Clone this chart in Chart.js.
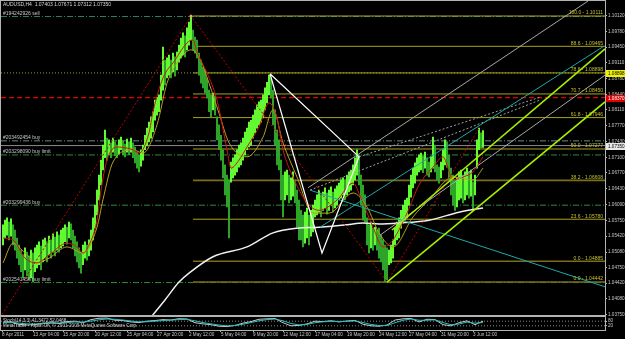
<!DOCTYPE html>
<html>
<head>
<meta charset="utf-8">
<script src="https://cdn.jsdelivr.net/npm/chart.js@4.4.1/dist/chart.umd.min.js"></script>
<style>
  body { margin: 0; background: #000; }
  #wrap { position: relative; width: 625px; height: 339px; background: #000; overflow: hidden; }
  #main { position: absolute; left: 0; top: 0; }
  #sub { position: absolute; left: 0; top: 316px; }
</style>
</head>
<body>
<div id="wrap">
  <canvas id="main" width="625" height="316"></canvas>
  <canvas id="sub" width="625" height="23"></canvas>
</div>
<script>
// AUDUSD H4 bars, one per 4 hours (bar 0 = 8 Apr 2011)
const highs = [
  1.0566,1.0576,1.0581,1.0572,1.0579,1.0566,1.0555,1.0538,1.0523,1.0512,
  1.0502,1.0517,1.0508,1.0500,1.0512,1.0506,1.0517,1.0523,1.0530,1.0521,
  1.0534,1.0538,1.0530,1.0542,1.0534,1.0547,1.0540,1.0551,1.0544,1.0555,
  1.0559,1.0566,1.0561,1.0572,1.0568,1.0555,1.0542,1.0530,1.0517,1.0508,
  1.0523,1.0530,1.0523,1.0534,1.0555,1.0581,1.0608,1.0640,1.0672,1.0704,
  1.0736,1.0768,1.0751,1.0747,1.0741,1.0751,1.0743,1.0736,1.0747,1.0753,
  1.0745,1.0738,1.0749,1.0743,1.0751,1.0741,1.0732,1.0721,1.0715,1.0726,
  1.0736,1.0757,1.0772,1.0785,1.0796,1.0807,1.0832,1.0838,1.0843,1.0885,
  1.0945,1.0917,1.0922,1.0928,1.0917,1.0932,1.0924,1.0934,1.0949,1.0964,
  1.0975,1.0969,1.0986,1.0998,1.1011,1.0981,1.0966,1.0960,1.0932,1.0917,
  1.0902,1.0896,1.0879,1.0853,1.0843,1.0847,1.0841,1.0796,1.0779,1.0757,
  1.0726,1.0694,1.0672,1.0662,1.0700,1.0709,1.0715,1.0726,1.0736,1.0741,
  1.0751,1.0764,1.0772,1.0785,1.0789,1.0800,1.0811,1.0822,1.0828,1.0832,
  1.0843,1.0858,1.0870,1.0885,1.0879,1.0853,1.0811,1.0768,1.0747,1.0704,
  1.0672,1.0679,1.0683,1.0672,1.0666,1.0679,1.0662,1.0640,1.0619,1.0597,
  1.0587,1.0593,1.0602,1.0587,1.0597,1.0608,1.0619,1.0630,1.0640,1.0630,
  1.0636,1.0645,1.0634,1.0640,1.0647,1.0636,1.0643,1.0649,1.0655,1.0662,
  1.0666,1.0662,1.0672,1.0679,1.0683,1.0694,1.0709,1.0726,1.0715,1.0672,
  1.0651,1.0630,1.0581,1.0566,1.0572,1.0559,1.0561,1.0555,1.0559,1.0544,
  1.0534,1.0523,1.0517,1.0512,1.0523,1.0534,1.0559,1.0572,1.0581,1.0597,
  1.0608,1.0619,1.0623,1.0651,1.0672,1.0687,1.0698,1.0709,1.0715,1.0719,
  1.0713,1.0721,1.0709,1.0700,1.0711,1.0753,1.0736,1.0694,1.0689,1.0700,
  1.0726,1.0747,1.0743,1.0715,1.0687,1.0672,1.0662,1.0666,1.0679,1.0683,
  1.0672,1.0679,1.0687,1.0679,1.0683,1.0657,1.0672,1.0747,1.0772,1.0762,1.0767
];
const lows = [
  1.0523,1.0538,1.0544,1.0534,1.0542,1.0523,1.0512,1.0495,1.0481,1.0466,
  1.0453,1.0470,1.0457,1.0449,1.0453,1.0444,1.0466,1.0474,1.0481,1.0470,
  1.0487,1.0495,1.0487,1.0502,1.0495,1.0508,1.0500,1.0512,1.0508,1.0517,
  1.0521,1.0530,1.0525,1.0538,1.0534,1.0517,1.0500,1.0487,1.0474,1.0463,
  1.0481,1.0495,1.0491,1.0500,1.0512,1.0534,1.0559,1.0587,1.0619,1.0651,
  1.0683,1.0709,1.0704,1.0715,1.0709,1.0721,1.0713,1.0709,1.0717,1.0726,
  1.0715,1.0711,1.0721,1.0715,1.0721,1.0709,1.0698,1.0687,1.0679,1.0691,
  1.0704,1.0726,1.0734,1.0743,1.0751,1.0764,1.0789,1.0800,1.0807,1.0832,
  1.0853,1.0864,1.0879,1.0885,1.0879,1.0892,1.0883,1.0896,1.0913,1.0922,
  1.0928,1.0924,1.0939,1.0949,1.0960,1.0939,1.0932,1.0922,1.0885,1.0868,
  1.0858,1.0847,1.0836,1.0807,1.0796,1.0811,1.0800,1.0747,1.0726,1.0704,
  1.0666,1.0630,1.0604,1.0538,1.0657,1.0666,1.0672,1.0679,1.0689,1.0694,
  1.0704,1.0715,1.0726,1.0732,1.0736,1.0751,1.0762,1.0772,1.0779,1.0785,
  1.0794,1.0811,1.0826,1.0843,1.0836,1.0779,1.0736,1.0694,1.0683,1.0619,
  1.0583,1.0619,1.0630,1.0613,1.0619,1.0627,1.0613,1.0561,1.0534,1.0534,
  1.0519,1.0527,1.0538,1.0523,1.0542,1.0551,1.0583,1.0587,1.0593,1.0583,
  1.0597,1.0602,1.0589,1.0597,1.0608,1.0593,1.0602,1.0608,1.0619,1.0623,
  1.0630,1.0619,1.0630,1.0636,1.0640,1.0651,1.0662,1.0672,1.0651,1.0608,
  1.0576,1.0572,1.0523,1.0506,1.0517,1.0512,1.0523,1.0512,1.0495,1.0487,
  1.0470,1.0444,1.0449,1.0481,1.0485,1.0495,1.0523,1.0534,1.0538,1.0559,
  1.0570,1.0576,1.0581,1.0608,1.0625,1.0645,1.0655,1.0672,1.0679,1.0683,
  1.0677,1.0687,1.0672,1.0668,1.0679,1.0687,1.0679,1.0662,1.0655,1.0666,
  1.0683,1.0694,1.0689,1.0662,1.0630,1.0608,1.0597,1.0604,1.0619,1.0623,
  1.0613,1.0619,1.0630,1.0623,1.0627,1.0597,1.0630,1.0687,1.0726,1.0730,1.0731
];

// moving averages as [bar, price]
const maFast = [[0,1.0538],[5,1.0534],[11,1.0495],[17,1.0485],[23,1.0502],[32,1.0527],[37,1.0519],[40,1.0506],[43,1.0523],[47,1.0576],[49,1.0640],[52,1.0704],[57,1.0732],[65,1.0726],[68,1.0719],[73,1.0762],[75,1.0807],[80,1.0879],[86,1.0917],[92,1.0954],[95,1.0960],[97,1.0934],[102,1.0890],[107,1.0832],[112,1.0726],[114,1.0687],[118,1.0704],[122,1.0732],[128,1.0775],[133,1.0826],[137,1.0794],[140,1.0726],[145,1.0668],[152,1.0613],[158,1.0597],[167,1.0619],[175,1.0655],[179,1.0623],[185,1.0561],[190,1.0519],[195,1.0534],[202,1.0591],[208,1.0651],[215,1.0689],[220,1.0711],[225,1.0662],[230,1.0668],[235,1.0679],[240,1.0711]];
const maSlow = [[0,1.0485],[5,1.0527],[11,1.0506],[17,1.0485],[23,1.0495],[32,1.0519],[40,1.0506],[47,1.0561],[50,1.0620],[55,1.0700],[65,1.0726],[70,1.0719],[77,1.0779],[82,1.0868],[88,1.0917],[94,1.0939],[98,1.0924],[103,1.0868],[108,1.0804],[113,1.0741],[122,1.0711],[130,1.0753],[135,1.0811],[140,1.0741],[147,1.0668],[155,1.0591],[163,1.0591],[175,1.0634],[182,1.0604],[188,1.0549],[195,1.0519],[205,1.0583],[213,1.0619],[225,1.0668],[235,1.0662],[240,1.0687]];
const maLong = [[72,1.0359],[81,1.0406],[88,1.0444],[93,1.0463],[105,1.0498],[122,1.0519],[135,1.0549],[147,1.0559],[158,1.0561],[172,1.0566],[180,1.0570],[188,1.0568],[198,1.0570],[213,1.0576],[228,1.0593],[240,1.0602]];

// drawn objects as [bar, price]
const zigzag = [[-1.5,1.0368],[94,1.1011],[192,1.0444],[238,1.0772]];
const pattern = [[133.5,1.0888],[159.5,1.0506],[178,1.0711],[133.5,1.0888]];
const limeLow = [[192,1.0444],[301,1.0828]];
const limeHigh = [[194.5,1.0555],[301,1.0941]];
const grayUp = [[152.5,1.0645],[292.5,1.1043]];
const grayLow = [[188.5,1.0544],[301,1.0885]];
const grayDot1 = [[153.5,1.0640],[268.5,1.0832]];
const grayDot2 = [[178,1.0711],[268.5,1.0838]];
const cyanDown = [[153.5,1.0640],[301,1.0434]];
const cyanUp = [[158.5,1.0561],[300.5,1.0947]];

// fibonacci levels (start at the top bar)
const fibStart = 95;
const fibNames = ['100.0','88.6','78.6','70.7','61.8','50.0','38.2','23.6','0.0','0.0'];
const fibPrices = [1.10111,1.09465,1.08898,1.08450,1.07946,1.07277,1.06608,1.05780,1.04885,1.04442];

// orders
const orderNames = ['#194242926 sell','#203492454 buy','#203298090 buy limit','#203299436 buy','#202541456 buy limit'];
const orderPrices = [1.1010,1.0745,1.0715,1.0608,1.0443];
const bidPrice = 1.07350;
const alertPrice = 1.08898;
const stopPrice = 1.08370;

// axis labels
const priceTicks = [1.1012,1.0978,1.0945,1.0911,1.0878,1.0844,1.0811,1.0777,1.0743,1.0710,1.0677,1.0643,1.0609,1.0575,1.0542,1.0508,1.0475,1.0442,1.0408,1.0375];
const timeBars = [-0.5,15,30,46,62,77,93,109,125,140,156,172,188,203,219,235];
const timeLabels = ['8 Apr 2011','13 Apr 04:00','15 Apr 20:00','20 Apr 12:00','25 Apr 04:00','27 Apr 20:00','2 May 12:00','5 May 04:00','9 May 20:00','12 May 12:00','17 May 04:00','19 May 20:00','24 May 12:00','27 May 04:00','31 May 20:00','3 Jun 12:00'];

// oscillator, one value every 4 bars
const oscStep = 4;
const oscMain = [65,70,40,30,38,55,60,50,75,80,60,100,118,120,92,88,70,62,80,88,100,95,112,108,60,45,35,15,10,25,55,75,105,110,115,60,20,25,45,80,75,85,70,82,90,40,20,15,30,95,110,115,70,105,100,35,20,60,85,35,80];
const oscSignal = [60,62,55,45,42,48,55,56,62,70,68,80,98,108,104,95,82,72,72,80,88,94,100,104,84,62,45,30,20,24,40,62,85,100,108,85,50,32,38,60,72,78,76,78,84,62,38,24,24,60,92,108,92,92,98,62,35,42,68,55,62];
const oscLevels = [80, 20];

const FONT = '"Liberation Sans", Arial, sans-serif';
const FRAME = '#b4b4b4';
const X_MIN = -1, X_MAX = 301;

const pts = arr => arr.map(p => ({ x: p[0], y: p[1] }));
const hline = (price, from) => [{ x: from, y: price }, { x: X_MAX, y: price }];

function lineSet(data, color, extra) {
    return Object.assign({
        type: 'line',
        data: data,
        borderColor: color,
        borderWidth: 1,
        pointRadius: 0,
        fill: false,
        tension: 0
    }, extra || {});
}

// candle colours: rising bars lime, falling bars darker green
const candleColors = highs.map((h, i) => {
    if (i === 0) return '#66ff33';
    return (h + lows[i]) >= (highs[i - 1] + lows[i - 1]) ? '#66ff33' : '#2fa82a';
});

const mainSets = [];

// horizontal order lines and fib levels, behind everything
const orderColors = ['#2f8060', '#5f8f8f', '#2f8a3a', '#2f8a3a', '#2f8a3a'];
orderPrices.forEach((p, k) => {
    mainSets.push(lineSet(hline(p, X_MIN), orderColors[k], { borderDash: [6, 2, 1, 2], order: 20 }));
});
mainSets.push(lineSet(hline(bidPrice, X_MIN), '#8a8a8a', { order: 20 }));
mainSets.push(lineSet(hline(alertPrice, X_MIN), '#9a9a20', { borderDash: [1, 2], order: 20 }));
mainSets.push(lineSet(hline(stopPrice, X_MIN), '#e00000', { borderDash: [5, 3], borderWidth: 1.2, order: 20 }));
fibPrices.forEach((p, k) => {
    const dark = fibNames[k] === '38.2' || fibNames[k] === '0.0';
    mainSets.push(lineSet(hline(p, fibStart), dark ? '#7a6e1c' : '#a8a418', { borderWidth: dark ? 1.6 : 1, order: 19 }));
});

// candles
mainSets.push({
    type: 'bar',
    data: highs.map((h, i) => ({ x: i, y: [lows[i], h] })),
    backgroundColor: candleColors,
    borderWidth: 0,
    barThickness: 1.3,
    grouped: false,
    order: 10
});

// moving averages
mainSets.push(lineSet(pts(maLong), '#f0f0f0', { borderWidth: 1.5, cubicInterpolationMode: 'monotone', order: 6 }));
mainSets.push(lineSet(pts(maSlow), '#b8a020', { cubicInterpolationMode: 'monotone', order: 5 }));
mainSets.push(lineSet(pts(maFast), '#d01414', { cubicInterpolationMode: 'monotone', order: 4 }));

// trend lines and the pattern
mainSets.push(lineSet(pts(zigzag), '#c00000', {
    borderDash: [2, 2],
    order: 3,
    pointRadius: zigzag.map((p, k) => (k === 1 ? 1.8 : 0)),
    pointStyle: 'rect',
    pointBackgroundColor: '#ffa070',
    pointBorderWidth: 0
}));
mainSets.push(lineSet(pts(cyanDown), '#1fa8a8', { order: 2 }));
mainSets.push(lineSet(pts(cyanUp), '#1fa8a8', { order: 2 }));
mainSets.push(lineSet(pts(grayUp), '#a8a8a8', { order: 2 }));
mainSets.push(lineSet(pts(grayLow), '#a8a8a8', { order: 2 }));
mainSets.push(lineSet(pts(grayDot1), '#a0a0a0', { borderDash: [2, 2], order: 2 }));
mainSets.push(lineSet(pts(grayDot2), '#a0a0a0', { borderDash: [2, 2], order: 2 }));
mainSets.push(lineSet(pts(limeLow), '#a8f000', { borderWidth: 1.5, order: 1 }));
mainSets.push(lineSet(pts(limeHigh), '#a8f000', { borderWidth: 1.5, order: 1 }));
mainSets.push(lineSet(pts(pattern), '#ffffff', { borderWidth: 1.2, order: 1 }));

function priceBox(ctx, area, y, text, bg, fg) {
    const py = Math.round(y);
    ctx.fillStyle = bg;
    ctx.fillRect(area.right + 1, py - 3, 625 - area.right - 1, 7);
    ctx.fillStyle = fg;
    ctx.textAlign = 'left';
    ctx.textBaseline = 'middle';
    ctx.fillText(text, area.right + 3, py + 0.5);
}

const mainOverlay = {
    id: 'mainOverlay',
    afterDraw(chart) {
        const { ctx, chartArea: a, scales: { y } } = chart;
        ctx.save();
        ctx.strokeStyle = FRAME;
        ctx.lineWidth = 1;
        ctx.strokeRect(a.left - 0.5, a.top - 0.5, a.width + 1, a.height + 1);

        ctx.font = '5px ' + FONT;
        ctx.textBaseline = 'middle';
        ctx.textAlign = 'left';
        ctx.fillStyle = '#d8d8d8';
        ctx.fillText('AUDUSD,H4  1.07403 1.07671 1.07312 1.07350', a.left + 2, a.top + 4);

        ctx.fillStyle = '#c8c8c8';
        orderPrices.forEach((p, k) => {
            ctx.fillText(orderNames[k], a.left + 2, y.getPixelForValue(p) - 3);
        });

        ctx.textAlign = 'right';
        ctx.fillStyle = '#c4c030';
        fibPrices.forEach((p, k) => {
            ctx.fillText(fibNames[k] + ' - ' + p.toFixed(5), a.right - 2, y.getPixelForValue(p) - 3);
        });

        ctx.font = '4.6px ' + FONT;
        priceBox(ctx, a, y.getPixelForValue(alertPrice), alertPrice.toFixed(5), '#f0f000', '#000');
        priceBox(ctx, a, y.getPixelForValue(stopPrice), stopPrice.toFixed(5), '#e00000', '#fff');
        priceBox(ctx, a, y.getPixelForValue(bidPrice), bidPrice.toFixed(5), '#e8e8e8', '#000');
        ctx.restore();
    }
};

new Chart(document.getElementById('main'), {
    type: 'bar',
    data: { datasets: mainSets },
    options: {
        responsive: false,
        animation: false,
        events: [],
        layout: { padding: { left: 1, top: 1, right: 0, bottom: 1 } },
        plugins: { legend: { display: false }, tooltip: { enabled: false } },
        scales: {
            x: {
                type: 'linear',
                min: X_MIN,
                max: X_MAX,
                offset: false,
                display: false
            },
            y: {
                position: 'right',
                min: 1.03739,
                max: 1.10431,
                grid: { drawOnChartArea: false, tickLength: 2, color: FRAME },
                border: { display: false },
                ticks: {
                    color: '#c8c8c8',
                    padding: 1,
                    font: { family: FONT, size: 4.6 },
                    callback: v => v.toFixed(5)
                },
                afterBuildTicks: s => { s.ticks = priceTicks.map(v => ({ value: v })); },
                afterFit: s => { s.width = 20; s.paddingTop = 0; s.paddingBottom = 0; }
            }
        }
    },
    plugins: [mainOverlay]
});

// sub window
const subSets = [];
oscLevels.forEach(v => {
    subSets.push(lineSet([{ x: X_MIN, y: v }, { x: X_MAX, y: v }], '#8c8c8c', { borderDash: [1, 2], order: 5 }));
});
subSets.push(lineSet(oscMain.map((v, k) => ({ x: k * oscStep, y: v })), '#c8c8c8', { order: 2 }));
subSets.push(lineSet(oscSignal.map((v, k) => ({ x: k * oscStep, y: v })), '#22c0c0', { order: 1 }));

const subOverlay = {
    id: 'subOverlay',
    afterDraw(chart) {
        const { ctx, chartArea: a } = chart;
        ctx.save();
        ctx.strokeStyle = FRAME;
        ctx.lineWidth = 1;
        ctx.strokeRect(a.left - 0.5, a.top - 0.5, a.width + 1, a.height + 1);
        ctx.font = '4.6px ' + FONT;
        ctx.textAlign = 'left';
        ctx.textBaseline = 'middle';
        ctx.fillStyle = '#d0d0d0';
        ctx.fillText('Stoch(14,3,3) 41.3472 52.0468', a.left + 2, a.top + 3.5);
        ctx.fillText('MetaTrader - Alpari UK, \u00a9 2001-2009 MetaQuotes Software Corp.', a.left + 2, a.top + 9);
        ctx.restore();
    }
};

new Chart(document.getElementById('sub'), {
    type: 'line',
    data: { datasets: subSets },
    options: {
        responsive: false,
        animation: false,
        events: [],
        layout: { padding: { left: 1, top: 1, right: 0, bottom: 0 } },
        plugins: { legend: { display: false }, tooltip: { enabled: false } },
        scales: {
            x: {
                type: 'linear',
                min: X_MIN,
                max: X_MAX,
                offset: false,
                grid: { drawOnChartArea: false, tickLength: 2, color: FRAME },
                border: { display: false },
                ticks: {
                    color: '#c8c8c8',
                    padding: 0,
                    align: 'start',
                    autoSkip: false,
                    maxRotation: 0,
                    font: { family: FONT, size: 4.6 },
                    callback: (v, k) => timeLabels[k]
                },
                afterBuildTicks: s => { s.ticks = timeBars.map(v => ({ value: v })); },
                afterFit: s => { s.height = 9; s.paddingLeft = 0; s.paddingRight = 0; }
            },
            y: {
                position: 'right',
                min: -34,
                max: 134,
                grid: { drawOnChartArea: false, tickLength: 2, color: FRAME },
                border: { display: false },
                ticks: {
                    color: '#c8c8c8',
                    padding: 1,
                    font: { family: FONT, size: 4.6 },
                    callback: v => String(v)
                },
                afterBuildTicks: s => { s.ticks = oscLevels.map(v => ({ value: v })); },
                afterFit: s => { s.width = 20; s.paddingTop = 0; s.paddingBottom = 0; }
            }
        }
    },
    plugins: [subOverlay]
});
</script>
</body>
</html>
